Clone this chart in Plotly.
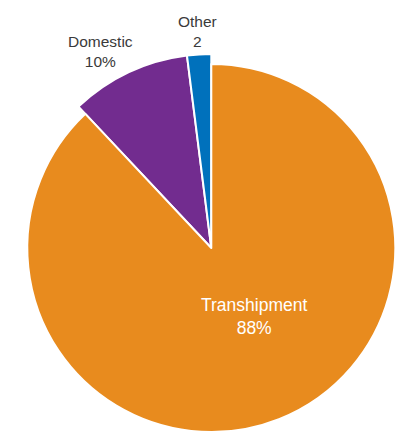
import plotly.graph_objects as go

# Share of traffic by type
categories = ["Transhipment", "Domestic", "Other"]
shares = [88, 10, 2]
suffixes = ["%", "%", ""]

colors = ["#E88B1E", "#722C8F", "#0071BC"]
CLEAR = "rgba(0,0,0,0)"

W, H = 416, 445
cx, cy = 211.3, 248.0      # pie centre, px from top-left
r_main = 184.0             # radius of the large slice
r_minor = 194.0            # radius of the two small slices


def dom(r):
    return dict(
        x=[(cx - r) / W, (cx + r) / W],
        y=[(H - cy - r) / H, (H - cy + r) / H],
    )


common = dict(
    labels=categories,
    values=shares,
    sort=False,
    direction="clockwise",
    rotation=0,
    textinfo="none",
    hoverinfo="skip",
    showlegend=False,
)

# Minor slices drawn on a slightly larger radius
big = go.Pie(
    domain=dom(r_minor),
    marker=dict(
        colors=[CLEAR, colors[1], colors[2]],
        line=dict(color=[CLEAR, "white", "white"], width=2),
    ),
    **common,
)

# Main slice
main = go.Pie(
    domain=dom(r_main),
    marker=dict(
        colors=[colors[0], CLEAR, CLEAR],
        line=dict(color=["white", CLEAR, CLEAR], width=2),
    ),
    **common,
)

fig = go.Figure([big, main])

label_pos = {
    "Transhipment": (254.0, 317.0, "white", 17.5),
    "Domestic": (100.5, 51.0, "#3a3a3a", 15.5),
    "Other": (197.5, 31.0, "#3a3a3a", 15.5),
}

for name, val, suf in zip(categories, shares, suffixes):
    x, y, col, size = label_pos[name]
    fig.add_annotation(
        x=x / W, y=(H - y) / H, xref="paper", yref="paper",
        text=f"{name}<br>{val}{suf}", showarrow=False,
        xanchor="center", yanchor="middle",
        font=dict(family="Liberation Sans, Arial, sans-serif", size=size, color=col),
    )

fig.update_layout(
    width=W, height=H,
    margin=dict(l=0, r=0, t=0, b=0),
    paper_bgcolor="white",
    plot_bgcolor="white",
)

fig.write_html("out.html", post_script="document.body.style.overflow='hidden';")
